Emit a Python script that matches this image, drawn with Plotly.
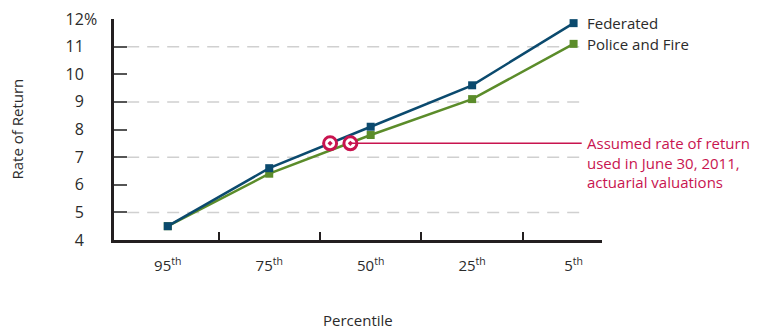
import plotly.graph_objects as go

# ---- data ----
categories = ["95<sup>th</sup>", "75<sup>th</sup>", "50<sup>th</sup>", "25<sup>th</sup>", "5<sup>th</sup>"]
federated = [4.5, 6.6, 8.1, 9.6, 11.85]
police_fire = [4.5, 6.4, 7.8, 9.1, 11.1]
assumed_rate = 7.5
crossing_positions = [1.6, 1.8]   # where each series crosses the assumed rate
y_tick_values = [4, 5, 6, 7, 8, 9, 10, 11, 12]
y_tick_labels = ["4", "5", "6", "7", "8", "9", "10", "11", "12"]
y_unit = "%"
grid_values = [5, 7, 9, 11]
series_names = ["Federated", "Police and Fire"]
note_text = "Assumed rate of return<br>used in June 30, 2011,<br>actuarial valuations"

NAVY = "#0B4A6E"
GREEN = "#5B8C2A"
CRIMSON = "#C8144F"
TEXT = "#2B2B2B"
FONT = "Open Sans"

# page has an 8px body margin, so the figure is drawn 8px in from the window edge
W, H = 752, 322
L, T = 106, 11
PLOT_W, PLOT_H = 488, 221

x = list(range(len(categories)))

fig = go.Figure()

# dashed gridlines (drawn as shapes so they stop short of the axis ends)
for g in grid_values:
    fig.add_shape(type="line", xref="x", yref="y", x0=-0.40, x1=4.09, y0=g, y1=g,
                  line=dict(color="#D0D0D0", width=1.5, dash="12px,8px"), layer="below")

fig.add_trace(go.Scatter(x=x, y=police_fire, mode="lines+markers", name=series_names[1],
                         line=dict(color=GREEN, width=2.5),
                         marker=dict(symbol="square", size=8, color=GREEN)))
fig.add_trace(go.Scatter(x=x, y=federated, mode="lines+markers", name=series_names[0],
                         line=dict(color=NAVY, width=2.5),
                         marker=dict(symbol="square", size=8, color=NAVY)))

# assumed-rate leader line
fig.add_shape(type="line", xref="x", yref="y", x0=crossing_positions[-1], x1=4.08,
              y0=assumed_rate, y1=assumed_rate, line=dict(color=CRIMSON, width=1.5))

fig.add_trace(go.Scatter(x=crossing_positions, y=[assumed_rate] * len(crossing_positions),
                         mode="markers",
                         marker=dict(symbol="circle-dot", size=13, color="white",
                                     line=dict(color=CRIMSON, width=3))))

# end labels
fig.add_annotation(x=x[-1], y=federated[-1], xref="x", yref="y", text=series_names[0],
                   showarrow=False, xanchor="left", xshift=11,
                   font=dict(family=FONT, size=15, color=TEXT))
fig.add_annotation(x=x[-1], y=police_fire[-1], xref="x", yref="y", text=series_names[1],
                   showarrow=False, xanchor="left", xshift=11,
                   font=dict(family=FONT, size=15, color=TEXT))
fig.add_annotation(x=x[-1], y=assumed_rate, xref="x", yref="y", text=note_text,
                   showarrow=False, xanchor="left", yanchor="top", xshift=11, yshift=12,
                   align="left",
                   font=dict(family=FONT, size=15, color=CRIMSON))

# hanging percent sign after the top tick label
fig.add_annotation(x=0, y=y_tick_values[-1], xref="paper", yref="y", text=y_unit,
                   showarrow=False, xanchor="left", yanchor="middle", xshift=-32,
                   font=dict(family=FONT, size=16, color=TEXT))

# axis titles
fig.add_annotation(x=(16 - 114) / PLOT_W, y=0.5, xref="paper", yref="paper",
                   text="Rate of Return", textangle=-90, showarrow=False,
                   xanchor="center", yanchor="middle",
                   font=dict(family=FONT, size=15, color=TEXT))
fig.add_annotation(x=0.5, y=(240 - 320) / PLOT_H, xref="paper", yref="paper",
                   text="Percentile", showarrow=False,
                   xanchor="center", yanchor="middle",
                   font=dict(family=FONT, size=15, color=TEXT))

fig.update_layout(
    width=W, height=H,
    margin=dict(l=L, r=W - L - PLOT_W, t=T, b=H - T - PLOT_H),
    paper_bgcolor="white", plot_bgcolor="white",
    showlegend=False,
    font=dict(family=FONT, size=15, color=TEXT),
)
fig.update_xaxes(
    range=[-0.53, 4.28], tickmode="array", tickvals=x, ticktext=categories,
    ticks="", showgrid=False, zeroline=False, automargin=False,
    showline=True, linecolor="#231F20", linewidth=3,
    ticklabelstandoff=10, tickfont=dict(family=FONT, size=15, color=TEXT),
    minor=dict(tickmode="array", tickvals=[0.5, 1.5, 2.5, 3.5], ticks="inside",
               ticklen=8, tickwidth=1.5, tickcolor="#231F20", showgrid=False),
)
fig.update_yaxes(
    range=[4, 12], tickmode="array", tickvals=y_tick_values, ticktext=y_tick_labels,
    ticks="inside", ticklen=13, tickwidth=2, tickcolor="#555555",
    showgrid=False, zeroline=False, automargin=False,
    showline=True, linecolor="#231F20", linewidth=3,
    ticklabelstandoff=24, ticklabeloverflow="allow",
    tickfont=dict(family=FONT, size=16, color=TEXT),
)

fig.write_html("out.html")
